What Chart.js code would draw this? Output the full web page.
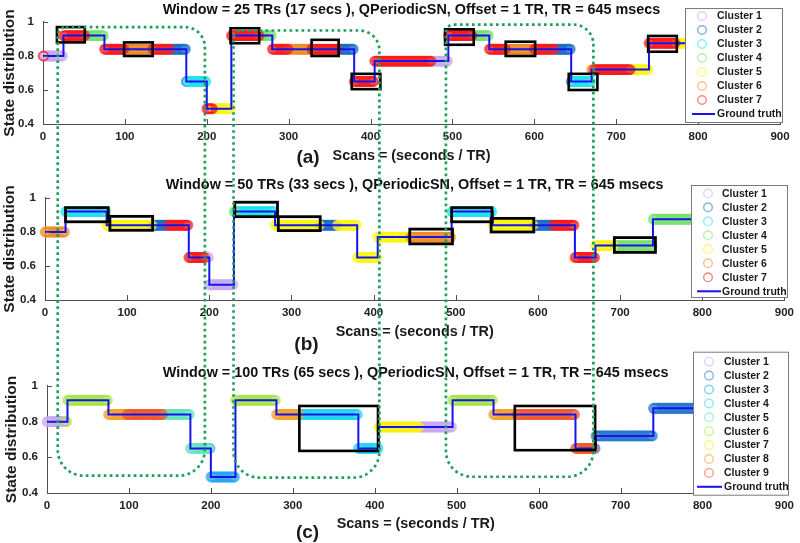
<!DOCTYPE html>
<html><head><meta charset="utf-8">
<script src="https://cdn.jsdelivr.net/npm/chart.js@4/dist/chart.umd.min.js"></script>
<style>
html,body{margin:0;padding:0;background:#fff;}
#wrap{position:relative;width:800px;height:543px;overflow:hidden;background:#fff;}
canvas{position:absolute;left:0;}
</style></head><body>
<div id="wrap">
<canvas id="cA" width="800" height="176" style="top:0px;width:800px;height:176px"></canvas>
<canvas id="cB" width="800" height="186" style="top:170px;width:800px;height:186px"></canvas>
<canvas id="cC" width="800" height="195" style="top:348px;width:800px;height:195px"></canvas>
</div>
<script>
// ---------------- data ----------------
const xTickValues = [0,100,200,300,400,500,600,700,800,900];
const yTickValues = [0.4,0.6,0.8,1];
const yTickLabels = ['0.4','0.6','0.8','1'];

const titlesList = [
  'Window = 25 TRs (17 secs ), QPeriodicSN, Offset = 1 TR, TR = 645 msecs',
  'Window = 50 TRs (33 secs ), QPeriodicSN, Offset = 1 TR, TR = 645 msecs',
  'Window = 100 TRs (65 secs ), QPeriodicSN, Offset = 1 TR, TR = 645 msecs'
];
const panelLabels = ['(a)','(b)','(c)'];
const xAxisLabel = 'Scans = (seconds / TR)';
const yAxisLabel = 'State distribution';
const gtLabel = 'Ground truth';

// ground truth step function: start scan of each state and its level
const gtX = [0,25,75,175,200,230,280,380,405,495,545,645,670,740,795];
const gtY = [0.80,0.92,0.84,0.65,0.49,0.92,0.84,0.65,0.77,0.92,0.84,0.65,0.72,0.875,0.875];

const clusterNames7 = ['Cluster 1','Cluster 2','Cluster 3','Cluster 4','Cluster 5','Cluster 6','Cluster 7'];
const clusterRGB7 = [[200,170,240],[30,110,200],[30,225,240],[120,225,110],[250,245,20],[240,140,40],[250,25,25]];
const clusterNames9 = ['Cluster 1','Cluster 2','Cluster 3','Cluster 4','Cluster 5','Cluster 6','Cluster 7','Cluster 8','Cluster 9'];
const clusterRGB9 = [[200,170,240],[40,120,205],[40,165,240],[30,215,240],[100,230,190],[170,230,70],[250,240,20],[245,160,40],[240,90,40]];

// cluster assignment runs: [first scan, end scan (excl.), cluster]
const runsA = [[0,2,7],[2,25,1],[25,52,7],[52,75,4],[75,100,7],[100,134,6],[134,156,7],[156,177,2],[177,200,3],
  [200,208,7],[208,230,5],[230,265,7],[265,280,4],[280,300,7],[300,328,6],[328,360,7],[360,380,2],[380,475,7],
  [475,495,1],[495,525,7],[525,545,4],[545,566,7],[566,600,6],[600,625,7],[625,647,2],[647,670,3],[670,673,6],
  [673,718,7],[718,740,5],[740,773,7],[773,795,5]];
const runsB = [[0,25,6],[25,75,3],[75,131,5],[131,150,2],[150,195,7],[195,230,1],[230,232,4],[232,280,3],
  [280,335,5],[335,356,2],[356,445,5],[445,495,6],[495,545,3],[545,595,5],[595,619,2],[619,670,7],
  [670,693,5],[693,795,4]];
const runsC = [[0,22,1],[22,75,6],[75,98,8],[98,142,9],[142,198,5],[198,230,3],[230,280,6],[280,308,8],
  [308,405,4],[405,455,7],[455,495,1],[495,545,6],[545,574,8],[574,668,9],[668,795,2]];

// black highlight boxes: [x from, x to, y from, y to]
const boxesA = [[17,51,0.88,0.97],[99,134,0.80,0.88],[229,264,0.875,0.963],[328,361,0.80,0.895],[377,412,0.605,0.695],
  [491,526,0.866,0.957],[565,601,0.80,0.884],[642,677,0.60,0.695],[739,774,0.825,0.918]];
const boxesB = [[25,77,0.86,0.943],[79,131,0.81,0.892],[231,283,0.89,0.975],[284,335,0.808,0.89],[444,496,0.73,0.817],
  [495,544,0.86,0.943],[543,595,0.80,0.88],[693,743,0.68,0.767]];
const boxesC = [[308,404,0.636,0.888],[571,669,0.64,0.888]];

// green dotted periods spanning the three panels
const dottedX = [[15.5,194.6],[229.5,407],[488,667.5]];
const dottedTop = [0.97,0.95,0.985];     // in panel (a) units
const dottedBottom = [0.497,0.486,0.491]; // in panel (c) units

// ---------------- style ----------------
const FONT = "'Liberation Sans', Arial, Helvetica, sans-serif";
Chart.defaults.font.family = FONT;
Chart.defaults.color = '#1a1a1a';
const axisColor = '#505050';
const gtColor = 'rgb(20,20,235)';
const dottedColor = 'rgb(30,160,90)';
const pageTops = [0,170,348];
const registry = {charts: [], ready: false};

function rgba(c, a){ return 'rgba(' + c[0] + ',' + c[1] + ',' + c[2] + ',' + a + ')'; }
function levelAt(s){ let v = gtY[0]; for (let i = 0; i < gtX.length - 1; i++) if (s >= gtX[i]) v = gtY[i]; return v; }

function clusterDatasets(runs, names, rgbs){
  return names.map((name, k) => {
    const pts = [];
    runs.filter(r => r[2] === k + 1).forEach(r => { for (let s = r[0]; s < r[1]; s++) pts.push({x: s, y: levelAt(s)}); });
    const col = rgba(rgbs[k], 0.55);
    return {type: 'scatter', label: name, data: pts, showLine: false, pointRadius: 4.6, pointBorderWidth: 1.7,
      pointBackgroundColor: 'rgba(0,0,0,0)', backgroundColor: 'rgba(0,0,0,0)', borderColor: col, pointBorderColor: col,
      pointHoverRadius: 4.6, clip: false, order: names.length - k + 1};
  });
}
function gtDataset(){
  return {type: 'line', label: gtLabel, data: gtX.map((x, i) => ({x: x, y: gtY[i]})), stepped: true,
    borderColor: gtColor, borderWidth: 2, pointRadius: 0, fill: false, order: 0, isGT: true, clip: false};
}

// ---------------- plugins ----------------
const inwardTicks = {
  id: 'inwardTicks',
  afterDatasetsDraw(chart){
    const {ctx, chartArea: a, scales: {x, y}} = chart;
    ctx.save(); ctx.strokeStyle = axisColor; ctx.lineWidth = 1; ctx.beginPath();
    x.ticks.forEach(t => { const px = Math.round(x.getPixelForValue(t.value)) + 0.5; ctx.moveTo(px, a.bottom); ctx.lineTo(px, a.bottom - 5); });
    y.ticks.forEach(t => { const py = Math.round(y.getPixelForValue(t.value)) + 0.5; ctx.moveTo(a.left, py); ctx.lineTo(a.left + 5, py); });
    ctx.stroke(); ctx.restore();
  }
};
const boxPlugin = {
  id: 'hiBoxes',
  afterDatasetsDraw(chart, args, o){
    const {ctx, scales: {x, y}} = chart;
    ctx.save(); ctx.strokeStyle = '#000'; ctx.lineWidth = o.width;
    o.list.forEach(b => {
      const x0 = x.getPixelForValue(b[0]), x1 = x.getPixelForValue(b[1]);
      const y0 = y.getPixelForValue(b[3]), y1 = y.getPixelForValue(b[2]);
      ctx.strokeRect(x0, y0, x1 - x0, y1 - y0);
    });
    ctx.restore();
  }
};
function roundedPath(ctx, L, T, R, B, tl, tr, br, bl){
  ctx.beginPath();
  ctx.moveTo(L + tl, T); ctx.lineTo(R - tr, T); ctx.arcTo(R, T, R, T + tr, tr);
  ctx.lineTo(R, B - br); ctx.arcTo(R, B, R - br, B, br);
  ctx.lineTo(L + bl, B); ctx.arcTo(L, B, L, B - bl, bl);
  ctx.lineTo(L, T + tl); ctx.arcTo(L, T, L + tl, T, tl); ctx.closePath();
}
const dottedPlugin = {
  id: 'dottedPeriods',
  afterDraw(chart, args, o){
    if (!registry.ready) return;
    const [cA, cB, cC] = registry.charts;
    const ctx = chart.ctx;
    ctx.save();
    ctx.beginPath(); ctx.rect(0, o.clipTop, chart.width, o.clipBottom - o.clipTop); ctx.clip();
    ctx.translate(0, -o.pageTop);
    ctx.strokeStyle = dottedColor; ctx.lineWidth = 2.7; ctx.setLineDash([2.7, 3.3]);
    dottedX.forEach((r, i) => {
      const L = cB.scales.x.getPixelForValue(r[0]), R = cB.scales.x.getPixelForValue(r[1]);
      const T = pageTops[0] + cA.scales.y.getPixelForValue(dottedTop[i]);
      const B = pageTops[2] + cC.scales.y.getPixelForValue(dottedBottom[i]);
      roundedPath(ctx, L, T, R, B, 8, 20, 26, 26);
      ctx.stroke();
    });
    ctx.restore();
  }
};
const legendPlugin = {
  id: 'boxLegend',
  afterDraw(chart, args, o){
    const ctx = chart.ctx;
    ctx.save();
    ctx.fillStyle = '#fff'; ctx.fillRect(o.x, o.y, o.w, o.h);
    ctx.strokeStyle = '#7a7a7a'; ctx.lineWidth = 1; ctx.strokeRect(o.x + 0.5, o.y + 0.5, o.w, o.h);
    ctx.font = 'bold 10.5px ' + FONT; ctx.textBaseline = 'middle'; ctx.textAlign = 'left';
    const list = chart.data.datasets.filter(d => !d.isGT).concat(chart.data.datasets.filter(d => d.isGT));
    list.forEach((ds, i) => {
      const cy = o.y + o.first + i * o.step;
      if (ds.isGT){
        ctx.strokeStyle = ds.borderColor; ctx.lineWidth = 2;
        ctx.beginPath(); ctx.moveTo(o.lineX0, cy); ctx.lineTo(o.lineX1, cy); ctx.stroke();
      } else {
        ctx.strokeStyle = ds.borderColor; ctx.lineWidth = 1.4;
        ctx.beginPath(); ctx.arc(o.markX, cy, 4.3, 0, Math.PI * 2); ctx.stroke();
      }
      ctx.fillStyle = '#1a1a1a';
      ctx.fillText(ds.label, o.textX, cy + 0.5);
    });
    ctx.restore();
  }
};
const panelPlugin = {
  id: 'panelLabel',
  afterDraw(chart, args, o){
    const ctx = chart.ctx;
    ctx.save(); ctx.font = 'bold 19px ' + FONT; ctx.fillStyle = '#1a1a1a';
    ctx.textAlign = 'center'; ctx.textBaseline = 'middle';
    ctx.fillText(o.text, o.x, o.y); ctx.restore();
  }
};

// ---------------- charts ----------------
function makeChart(id, idx, cfg){
  const datasets = [gtDataset()].concat(clusterDatasets(cfg.runs, cfg.names, cfg.rgbs));
  return new Chart(document.getElementById(id), {
    type: 'scatter',
    data: {datasets: datasets},
    plugins: [inwardTicks, boxPlugin, dottedPlugin, legendPlugin, panelPlugin],
    options: {
      responsive: false, animation: false, devicePixelRatio: 1, events: [],
      layout: {padding: {left: 0, right: cfg.padRight, top: 0, bottom: 0}},
      scales: {
        x: {type: 'linear', min: 0, max: 900,
          afterBuildTicks: s => { s.ticks = xTickValues.map(v => ({value: v})); },
          afterFit: s => { s.height = cfg.xH; },
          grid: {display: false, drawTicks: false},
          border: {display: true, color: axisColor, width: 1},
          ticks: {color: '#222', font: {size: 11.5, weight: 'bold'}, padding: 6, maxRotation: 0, autoSkip: false,
            callback: v => String(v)},
          title: {display: true, text: xAxisLabel, color: '#1a1a1a', font: {size: 14.4, weight: 'bold'},
            padding: {top: 0, bottom: cfg.xTitlePad}}
        },
        y: {type: 'linear', min: 0.4, max: 1,
          afterBuildTicks: s => { s.ticks = yTickValues.map(v => ({value: v})); },
          afterFit: s => { s.width = cfg.yW; },
          grid: {display: false, drawTicks: false},
          border: {display: true, color: axisColor, width: 1},
          ticks: {color: '#222', font: {size: 11.5, weight: 'bold'}, padding: 9,
            callback: (v, i) => yTickLabels[i]},
          title: {display: true, text: yAxisLabel, color: '#1a1a1a', font: {size: 15.5, weight: 'bold'},
            padding: {top: cfg.yTitlePad, bottom: 0}}
        }
      },
      plugins: {
        legend: {display: false}, tooltip: {enabled: false},
        title: {display: true, text: titlesList[idx], fullSize: false, color: '#111',
          font: {size: 14.4, weight: 'bold'}, padding: {top: cfg.tTop, bottom: cfg.tBottom}},
        hiBoxes: {list: cfg.boxes, width: cfg.boxW},
        dottedPeriods: {pageTop: pageTops[idx], clipTop: cfg.clipTop, clipBottom: cfg.clipBottom},
        boxLegend: cfg.legend,
        panelLabel: {text: panelLabels[idx], x: cfg.panelX, y: cfg.panelY}
      }
    }
  });
}

const chartA = makeChart('cA', 0, {runs: runsA, names: clusterNames7, rgbs: clusterRGB7, boxes: boxesA, boxW: 2.6,
  padRight: 20, xH: 52, xTitlePad: 11.4, yW: 43, yTitlePad: 0, tTop: 1.4, tBottom: 3.3,
  clipTop: 0, clipBottom: 171, panelX: 308, panelY: 157.5,
  legend: {x: 685, y: 8, w: 97, h: 114, first: 8, step: 14, markX: 702, textX: 717, lineX0: 692, lineX1: 715}});
const chartB = makeChart('cB', 1, {runs: runsB, names: clusterNames7, rgbs: clusterRGB7, boxes: boxesB, boxW: 2.8,
  padRight: 12, xH: 56, xTitlePad: 14.9, yW: 45, yTitlePad: 0.4, tTop: 6.4, tBottom: 4.3,
  clipTop: 1, clipBottom: 180, panelX: 306.5, panelY: 175,
  legend: {x: 691, y: 15, w: 96, h: 112, first: 8.3, step: 14, markX: 708, textX: 722, lineX0: 697, lineX1: 721}});
const chartC = makeChart('cC', 2, {runs: runsC, names: clusterNames9, rgbs: clusterRGB9, boxes: boxesC, boxW: 2.6,
  padRight: 12, xH: 50, xTitlePad: 10.4, yW: 47, yTitlePad: 2.4, tTop: 16.4, tBottom: 4.3,
  clipTop: 2, clipBottom: 195, panelX: 307.5, panelY: 185,
  legend: {x: 693, y: 3.7, w: 95, h: 143, first: 10, step: 13.9, markX: 709, textX: 724, lineX0: 697, lineX1: 722}});

registry.charts = [chartA, chartB, chartC];
registry.ready = true;
registry.charts.forEach(c => c.draw());
</script>
</body></html>
